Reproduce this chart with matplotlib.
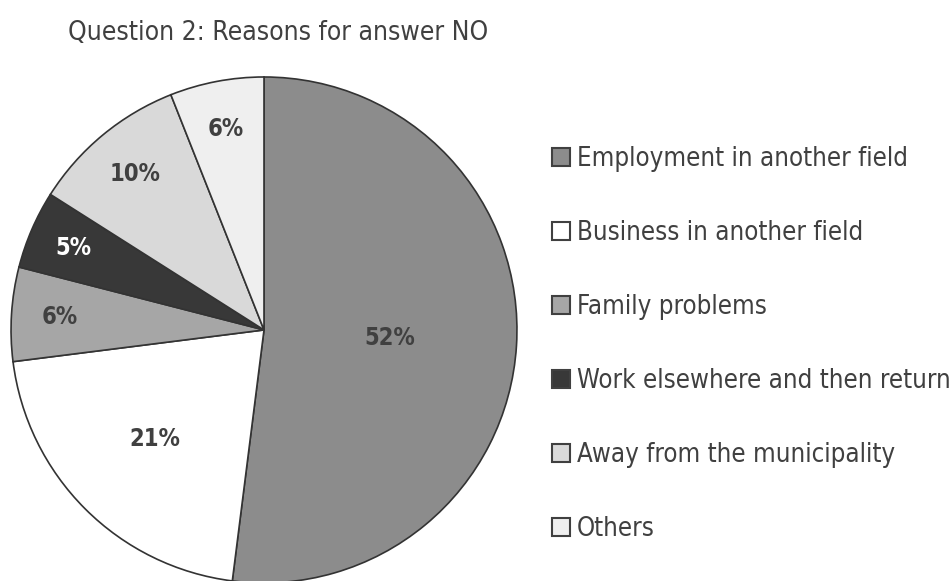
import matplotlib
matplotlib.use("Agg")
from matplotlib import pyplot as plt
from matplotlib.patches import Patch
import numpy as np

# data
categories = ['Employment in another field', 'Business in another field',
              'Family problems', 'Work elsewhere and then return',
              'Away from the municipality', 'Others']
shares = [52, 21, 6, 5, 10, 6]
colours = ['#8c8c8c', '#ffffff', '#a6a6a6', '#383838', '#d9d9d9', '#efefef']
label_colours = ['#404040', '#404040', '#404040', '#ffffff', '#404040', '#404040']
label_dist = [0.50, 0.61, 0.81, 0.82, 0.80, 0.81]

plt.rcParams['font.family'] = ['DejaVu Sans']
plt.rcParams['font.stretch'] = 'condensed'
txt = '#404040'

fig = plt.figure(figsize=(9.51, 5.81), dpi=100)
ax = fig.add_axes([0.0116, -0.0034, 0.532, 0.871])
wedges, _ = ax.pie(shares, colors=colours, startangle=90, counterclock=False,
                   radius=1, wedgeprops=dict(edgecolor='#333333', linewidth=1.2))
ax.set_xlim(-1, 1)
ax.set_ylim(-1, 1)
ax.set_aspect('equal')
ax.axis('off')

# percent labels placed along each wedge's middle angle
for w, v, c, d in zip(wedges, shares, label_colours, label_dist):
    ang = np.deg2rad((w.theta1 + w.theta2) / 2)
    ax.text(d * np.cos(ang), d * np.sin(ang), f'{v}%', ha='center', va='center',
            fontsize=17, fontweight='bold', color=c)

fig.text(0.0715, 0.943, 'Question 2: Reasons for answer NO', fontsize=19,
         color=txt, ha='left', va='center')

handles = [Patch(facecolor=c, edgecolor='#404040', linewidth=1.5) for c in colours]
leg = fig.legend(handles, categories, loc='upper left', bbox_to_anchor=(0.5804, 0.749),
                 frameon=False, handlelength=0.7, handleheight=0.7,
                 handletextpad=0.27, labelspacing=1.87, borderaxespad=0, borderpad=0,
                 prop=dict(size=18.5, stretch='condensed'))
for t in leg.get_texts():
    t.set_color(txt)

fig.savefig('out.png', dpi=100)
